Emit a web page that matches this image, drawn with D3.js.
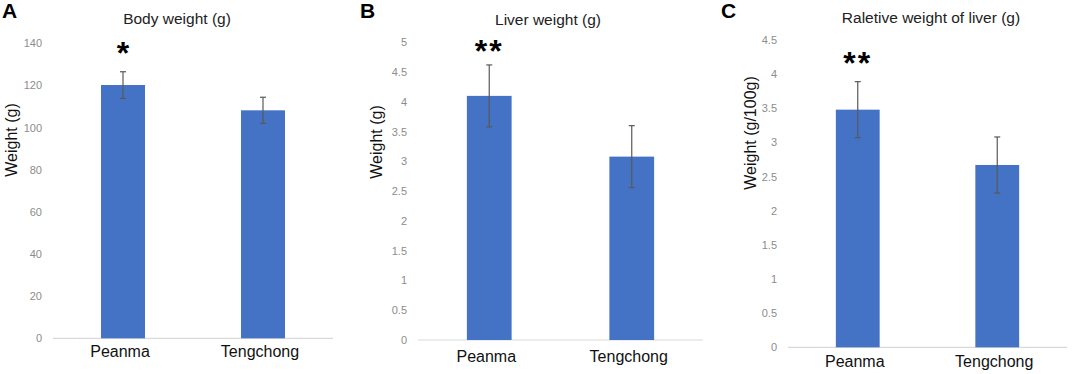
<!DOCTYPE html>
<html>
<head>
<meta charset="utf-8">
<script src="https://cdn.jsdelivr.net/npm/d3@7"></script>
<style>
  body { margin: 0; background: #fff; }
  svg { font-family: Arial, "Liberation Sans", sans-serif; display: block; }
</style>
</head>
<body>
<div id="chart"></div>
<script>
// Data
const categories = ["Peanma", "Tengchong"];

const bodyWeight = [120.2, 108.2];
const bodyWeightErr = [6.3, 6.2];
const bodyTicks = [0, 20, 40, 60, 80, 100, 120, 140];

const liverWeight = [4.1, 3.08];
const liverWeightErr = [0.52, 0.52];
const liverTicks = [0, 0.5, 1, 1.5, 2, 2.5, 3, 3.5, 4, 4.5, 5];

const relLiverWeight = [3.48, 2.67];
const relLiverWeightErr = [0.41, 0.41];
const relLiverTicks = [0, 0.5, 1, 1.5, 2, 2.5, 3, 3.5, 4, 4.5];

const panelLetters = ["A", "B", "C"];
const panelTitles = ["Body weight (g)", "Liver weight (g)", "Raletive weight of liver (g)"];
const yTitles = ["Weight (g)", "Weight (g)", "Weight (g/100g)"];
const sigMarks = ["*", "**", "**"];

const svg = d3.select("#chart")
  .append("svg")
  .attr("width", 1072)
  .attr("height", 374);

// Layout of each panel (pixels)
const panels = [
  { values: bodyWeight, errs: bodyWeightErr, ticks: bodyTicks,
    x0: 53, x1: 333, yTop: 43.3, yBase: 338.3, letterX: 2, titleX: 177, titleY: 24, yTitleX: 11, yTitleY: 140, catY: 357, markGap: 8 },
  { values: liverWeight, errs: liverWeightErr, ticks: liverTicks,
    x0: 418, x1: 703, yTop: 42.3, yBase: 340, letterX: 360, titleX: 548, titleY: 25, yTitleX: 376, yTitleY: 142, catY: 362, markGap: 3 },
  { values: relLiverWeight, errs: relLiverWeightErr, ticks: relLiverTicks,
    x0: 788, x1: 1067, yTop: 40, yBase: 347.3, letterX: 721, titleX: 931, titleY: 23, yTitleX: 750, yTitleY: 133, catY: 367, markGap: 8 }
];

panels.forEach(function (p, i) {
  const g = svg.append("g");

  const x = d3.scaleBand()
    .domain(categories)
    .range([p.x0, p.x1])
    .paddingInner(0.686)
    .paddingOuter(0.343);

  const y = d3.scaleLinear()
    .domain([0, d3.max(p.ticks)])
    .range([p.yBase, p.yTop]);

  // Y axis: labels only, no line
  const yAxis = g.append("g")
    .attr("transform", `translate(${p.x0}, 0)`)
    .call(d3.axisLeft(y).tickValues(p.ticks).tickSize(0).tickPadding(11).tickFormat(d3.format("")));
  yAxis.select(".domain").remove();
  yAxis.selectAll("text")
    .attr("fill", "#8c8c8c")
    .style("font-size", "11px");

  // Baseline
  g.append("line")
    .attr("x1", p.x0).attr("x2", p.x1)
    .attr("y1", y(0)).attr("y2", y(0))
    .attr("stroke", "#d9d9d9")
    .attr("stroke-width", 1.2);

  const rows = categories.map((c, j) => ({ cat: c, v: p.values[j], e: p.errs[j] }));

  // Bars
  g.selectAll("rect.bar")
    .data(rows)
    .join("rect")
    .attr("class", "bar")
    .attr("x", d => x(d.cat))
    .attr("width", x.bandwidth())
    .attr("y", d => y(d.v))
    .attr("height", d => y(0) - y(d.v))
    .attr("fill", "#4472c4");

  // Error bars
  const eb = g.selectAll("g.err")
    .data(rows)
    .join("g")
    .attr("class", "err")
    .attr("stroke", "#595959")
    .attr("stroke-width", 1.2);
  eb.append("line")
    .attr("x1", d => x(d.cat) + x.bandwidth() / 2)
    .attr("x2", d => x(d.cat) + x.bandwidth() / 2)
    .attr("y1", d => y(d.v + d.e))
    .attr("y2", d => y(d.v - d.e));
  [1, -1].forEach(function (s) {
    eb.append("line")
      .attr("x1", d => x(d.cat) + x.bandwidth() / 2 - 3)
      .attr("x2", d => x(d.cat) + x.bandwidth() / 2 + 3)
      .attr("y1", d => y(d.v + s * d.e))
      .attr("y2", d => y(d.v + s * d.e));
  });

  // Category labels
  g.selectAll("text.cat")
    .data(categories)
    .join("text")
    .attr("class", "cat")
    .attr("x", d => x(d) + x.bandwidth() / 2 - 3)
    .attr("y", p.catY)
    .attr("text-anchor", "middle")
    .style("font-size", "16px")
    .attr("fill", "#111")
    .text(d => d);

  // Significance mark above first bar
  g.append("text")
    .attr("x", x(categories[0]) + x.bandwidth() / 2)
    .attr("y", y(p.values[0] + p.errs[0]) - p.markGap)
    .attr("text-anchor", "middle")
    .style("font-size", "32px")
    .style("font-weight", "bold")
    .style("letter-spacing", sigMarks[i].length > 1 ? "2px" : "0px")
    .attr("fill", "#000")
    .text(sigMarks[i]);

  // Titles
  g.append("text")
    .attr("x", p.titleX)
    .attr("y", p.titleY)
    .attr("text-anchor", "middle")
    .style("font-size", "15.5px")
    .attr("fill", "#222")
    .text(panelTitles[i]);

  g.append("text")
    .attr("transform", `translate(${p.yTitleX}, ${p.yTitleY}) rotate(-90)`)
    .attr("text-anchor", "middle")
    .attr("dy", "0.35em")
    .style("font-size", "16px")
    .attr("fill", "#111")
    .text(yTitles[i]);

  g.append("text")
    .attr("x", p.letterX)
    .attr("y", 18)
    .style("font-size", "21px")
    .style("font-weight", "bold")
    .attr("fill", "#000")
    .text(panelLetters[i]);
});
</script>
</body>
</html>
